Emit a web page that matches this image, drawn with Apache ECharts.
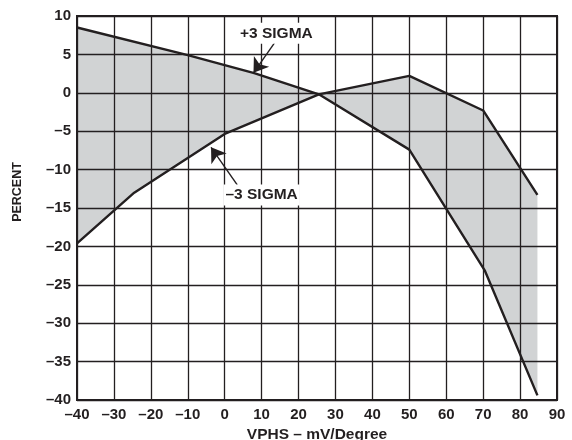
<!DOCTYPE html>
<html>
<head>
<meta charset="utf-8">
<script src="https://cdn.jsdelivr.net/npm/echarts@6/dist/echarts.min.js"></script>
<style>
  html, body { margin: 0; padding: 0; background: #fff; }
  #chart { width: 572px; height: 440px; }
</style>
</head>
<body>
<div id="chart"></div>
<script>
// +3 sigma curve
var upperX = [-40, -10, 8, 25.5, 50, 70.5, 84.7];
var upperY = [8.5, 4.9, 2.55, -0.2, -7.4, -23.2, -39.4];
// -3 sigma curve
var lowerX = [-40, -24.5, 0, 25.5, 50, 70, 84.7];
var lowerY = [-19.6, -13, -5.35, -0.2, 2.2, -2.3, -13.3];

var xTicks = { min: -40, max: 90, step: 10 };
var yTicks = { min: -40, max: 10, step: 5 };

var ink = '#231f20';
var font = 'Liberation Sans, Arial, Helvetica, sans-serif';

function pairs(xs, ys) {
  return xs.map(function (x, i) { return [x, ys[i]]; });
}
function dash(v) {
  return String(v).replace('-', '\u2013');
}

var myChart = echarts.init(document.getElementById('chart'));

myChart.setOption({
  animation: false,
  grid: {
    left: 77,
    right: 15,
    top: 16,
    bottom: 40,
    containLabel: false,
    outerBoundsMode: 'none',
    show: true,
    borderColor: ink,
    borderWidth: 2,
    backgroundColor: 'transparent'
  },
  xAxis: {
    type: 'value',
    min: xTicks.min,
    max: xTicks.max,
    interval: xTicks.step,
    name: 'VPHS \u2013 mV/Degree',
    nameLocation: 'middle',
    nameGap: 26,
    nameTextStyle: { fontFamily: font, fontWeight: 'bold', fontSize: 15.5, color: ink },
    axisLine: { show: false },
    axisTick: { show: false },
    axisLabel: {
      margin: 7,
      fontFamily: font, fontWeight: 'bold', fontSize: 15, color: ink,
      formatter: dash
    },
    splitLine: { lineStyle: { color: ink, width: 1.3 } }
  },
  yAxis: {
    type: 'value',
    min: yTicks.min,
    max: yTicks.max,
    interval: yTicks.step,
    name: 'PERCENT',
    nameLocation: 'middle',
    nameGap: 53,
    nameTextStyle: {
      fontFamily: font, fontWeight: 'bold', fontSize: 12.5, color: ink,
      padding: [0, 0, 0, 32]
    },
    axisLine: { show: false },
    axisTick: { show: false },
    axisLabel: {
      margin: 6,
      fontFamily: font, fontWeight: 'bold', fontSize: 15, color: ink,
      formatter: dash
    },
    splitLine: { lineStyle: { color: ink, width: 1.3 } }
  },
  series: [
    {
      // shaded band between the two curves
      type: 'custom',
      z: -1,
      silent: true,
      data: [[0, 0]],
      renderItem: function (params, api) {
        var pts = pairs(upperX, upperY).map(function (p) { return api.coord(p); });
        var low = pairs(lowerX, lowerY).map(function (p) { return api.coord(p); }).reverse();
        return {
          type: 'polygon',
          shape: { points: pts.concat(low) },
          style: { fill: '#d1d3d4' }
        };
      }
    },
    {
      name: '+3 SIGMA',
      type: 'line',
      z: 3,
      symbol: 'none',
      lineStyle: { color: ink, width: 2.4 },
      data: pairs(upperX, upperY),
      markLine: {
        silent: true,
        symbol: ['none', 'arrow'],
        symbolSize: 14,
        label: { show: false },
        lineStyle: { color: ink, width: 1.4, type: 'solid' },
        data: [
          [{ coord: [13.5, 6.5] }, { coord: [7.8, 2.6] }],
          [{ coord: [3.4, -12.0] }, { coord: [-3.7, -7.1] }]
        ]
      },
      markPoint: {
        silent: true,
        symbol: 'rect',
        symbolSize: 1,
        itemStyle: { color: 'rgba(0,0,0,0)' },
        label: {
          show: true,
          position: 'inside',
          formatter: '{b}',
          fontFamily: font, fontWeight: 'bold', fontSize: 15.5, color: ink,
          backgroundColor: '#fff',
          padding: [3, 2, 2, 2]
        },
        data: [
          { name: '+3 SIGMA', coord: [14, 7.75] },
          { name: '\u20133 SIGMA', coord: [10, -13.3] }
        ]
      }
    },
    {
      name: '-3 SIGMA',
      type: 'line',
      z: 3,
      symbol: 'none',
      lineStyle: { color: ink, width: 2.4 },
      data: pairs(lowerX, lowerY)
    }
  ]
});
</script>
</body>
</html>
